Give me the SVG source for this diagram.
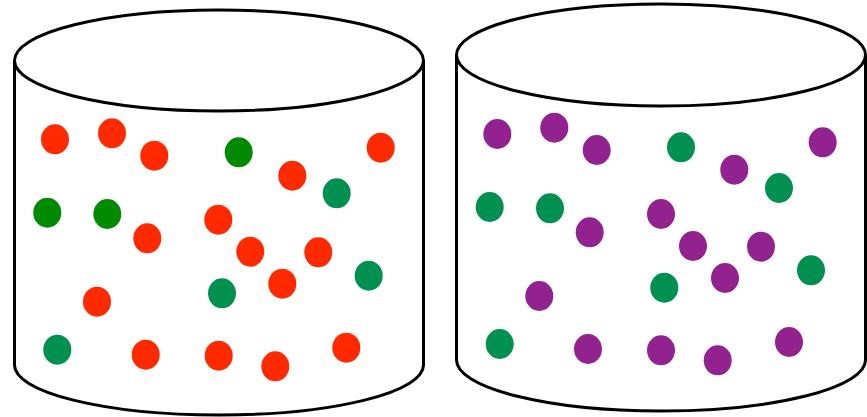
<svg xmlns="http://www.w3.org/2000/svg" width="867" height="417" viewBox="0 0 867 417">
<style>
.cyl{fill:#fff;stroke:#000;stroke-width:3}
.r{fill:#ff2a00}
.g{fill:#008a00}
.t{fill:#009050}
.p{fill:#922290}
</style>
<defs>
<ellipse id="d" rx="14" ry="15"/>
</defs>
<rect width="867" height="417" fill="#fff"/>
<g id="cylinder-left">
<path class="cyl" d="M14.5,60.5 L14.5,365 A204.5,50 0 0 0 423.5,365 L423.5,60.5"/>
<ellipse class="cyl" cx="219" cy="60.5" rx="204.5" ry="50.5"/>
<g id="dots-left">
<use href="#d" class="r" x="55" y="139.3"/>
<use href="#d" class="r" x="112" y="133.3"/>
<use href="#d" class="r" x="154.3" y="155.7"/>
<use href="#d" class="g" x="238.7" y="152.3"/>
<use href="#d" class="r" x="380.7" y="147.7"/>
<use href="#d" class="r" x="292.3" y="175.7"/>
<use href="#d" class="t" x="336.7" y="193.3"/>
<use href="#d" class="g" x="47.3" y="212.7"/>
<use href="#d" class="g" x="107.3" y="214"/>
<use href="#d" class="r" x="147.3" y="238.3"/>
<use href="#d" class="r" x="218.3" y="219.7"/>
<use href="#d" class="r" x="250.3" y="251.7"/>
<use href="#d" class="r" x="318.3" y="252.3"/>
<use href="#d" class="r" x="282.3" y="283.7"/>
<use href="#d" class="t" x="368.7" y="275.7"/>
<use href="#d" class="t" x="222" y="293.3"/>
<use href="#d" class="r" x="97" y="301.7"/>
<use href="#d" class="t" x="57.3" y="349.7"/>
<use href="#d" class="r" x="145.7" y="354.7"/>
<use href="#d" class="r" x="218.7" y="355.7"/>
<use href="#d" class="r" x="275.3" y="366.3"/>
<use href="#d" class="r" x="346.3" y="347.7"/>
</g>
</g>
<g id="cylinder-right">
<path class="cyl" d="M456.5,55 L456.5,360 A204.5,51 0 0 0 865.5,360 L865.5,55"/>
<ellipse class="cyl" cx="661" cy="55" rx="204.5" ry="51"/>
<g id="dots-right">
<use href="#d" class="p" x="497.3" y="134"/>
<use href="#d" class="p" x="554.3" y="127.7"/>
<use href="#d" class="p" x="596.7" y="150"/>
<use href="#d" class="t" x="681" y="147.3"/>
<use href="#d" class="p" x="822.7" y="142.3"/>
<use href="#d" class="p" x="734.3" y="169.7"/>
<use href="#d" class="t" x="779" y="188"/>
<use href="#d" class="t" x="489.7" y="207"/>
<use href="#d" class="t" x="550" y="208.3"/>
<use href="#d" class="p" x="589.7" y="232.3"/>
<use href="#d" class="p" x="661" y="214"/>
<use href="#d" class="p" x="693" y="246"/>
<use href="#d" class="p" x="761" y="246.7"/>
<use href="#d" class="p" x="725" y="278"/>
<use href="#d" class="t" x="811" y="270.3"/>
<use href="#d" class="t" x="664.3" y="287.7"/>
<use href="#d" class="p" x="539.3" y="296"/>
<use href="#d" class="t" x="499.7" y="344"/>
<use href="#d" class="p" x="588" y="349"/>
<use href="#d" class="p" x="661" y="350.3"/>
<use href="#d" class="p" x="717.7" y="360.3"/>
<use href="#d" class="p" x="789" y="342"/>
</g>
</g>
<g id="connectors"/>
</svg>
